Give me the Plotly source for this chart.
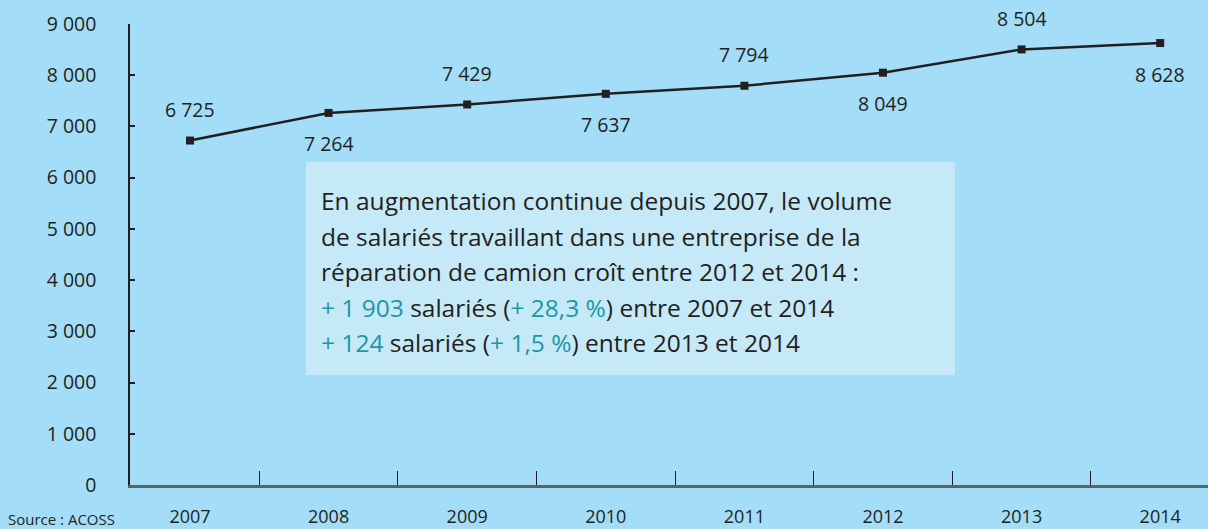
import plotly.graph_objects as go

years = ["2007", "2008", "2009", "2010", "2011", "2012", "2013", "2014"]
salaries = [6725, 7264, 7429, 7637, 7794, 8049, 8504, 8628]
label_texts = ["6 725", "7 264", "7 429", "7 637", "7 794", "8 049", "8 504", "8 628"]
y_ticks = [0, 1000, 2000, 3000, 4000, 5000, 6000, 7000, 8000, 9000]
y_tick_labels = ["0", "1 000", "2 000", "3 000", "4 000", "5 000", "6 000", "7 000", "8 000", "9 000"]

BG = "#a3ddf7"
BOX = "#c6e9f8"
TEAL = "#1a98a6"
DARK = "#231f20"
FONT = "Open Sans"

plot_left, plot_right, plot_top, plot_bottom = 130, 1208, 24, 485
pw = plot_right - plot_left
ph = plot_bottom - plot_top


def px_to_paper(px, py):
    return (px - plot_left) / pw, (plot_bottom - py) / ph


fig = go.Figure()
fig.add_trace(go.Scatter(
    x=years, y=salaries, mode="lines+markers",
    line=dict(color=DARK, width=2.5),
    marker=dict(symbol="square", size=8, color=DARK),
    hoverinfo="skip", showlegend=False,
))

annotations = []
for i, (v, t) in enumerate(zip(salaries, label_texts)):
    annotations.append(dict(
        x=i, y=v, xref="x", yref="y", text=t, showarrow=False,
        yshift=31 if i % 2 == 0 else -31,
        font=dict(family=FONT, size=19.5, color=DARK),
    ))

box_lines = [
    "En augmentation continue depuis 2007, le volume",
    "de salariés travaillant dans une entreprise de la",
    "réparation de camion croît entre 2012 et 2014 :",
    f"<span style='color:{TEAL}'>+ 1 903</span> salariés (<span style='color:{TEAL}'>+ 28,3 %</span>) entre 2007 et 2014",
    f"<span style='color:{TEAL}'>+ 124</span> salariés (<span style='color:{TEAL}'>+ 1,5 %</span>) entre 2013 et 2014",
]
for k, line in enumerate(box_lines):
    bx, by = px_to_paper(319, 201 + 35.4 * k)
    annotations.append(dict(
        x=bx, y=by, xref="paper", yref="paper", text=line, showarrow=False,
        xanchor="left", yanchor="middle", align="left",
        font=dict(family=FONT, size=24.5, color=DARK),
    ))

sx, sy = px_to_paper(6, 519)
annotations.append(dict(
    x=sx, y=sy, xref="paper", yref="paper", text="Source : ACOSS", showarrow=False,
    xanchor="left", yanchor="middle",
    font=dict(family=FONT, size=15, color=DARK),
))

x0, y1 = px_to_paper(306, 162)
x1, y0 = px_to_paper(955, 375)

fig.update_layout(
    width=1208, height=529,
    margin=dict(l=plot_left, r=0, t=plot_top, b=529 - plot_bottom),
    paper_bgcolor=BG, plot_bgcolor=BG,
    font=dict(family=FONT, size=18, color=DARK),
    annotations=annotations,
    shapes=[dict(type="rect", xref="paper", yref="paper", x0=x0, x1=x1, y0=y0, y1=y1,
                 fillcolor=BOX, line=dict(width=0), layer="below")],
    xaxis=dict(
        type="category", range=[-0.433, 7.345],
        tickson="boundaries", ticks="inside", ticklen=14, tickwidth=1.2, tickcolor=DARK,
        showgrid=False, zeroline=False, showline=True, linecolor="#56646c", linewidth=2.5,
        ticklabelstandoff=14,
        tickfont=dict(family=FONT, size=18, color=DARK),
        fixedrange=True,
    ),
    yaxis=dict(
        range=[0, 9000], tickvals=y_ticks, ticktext=y_tick_labels,
        ticks="inside", ticklen=5, tickwidth=1.5, tickcolor=DARK,
        showgrid=False, zeroline=False, showline=True, linecolor=DARK, linewidth=1.5,
        ticklabelstandoff=28,
        tickfont=dict(family=FONT, size=19.5, color=DARK),
        fixedrange=True,
    ),
)

fig.write_html(
    "out.html",
    config={"displayModeBar": False},
    post_script="document.body.style.margin='0';document.body.style.overflow='hidden';",
)
